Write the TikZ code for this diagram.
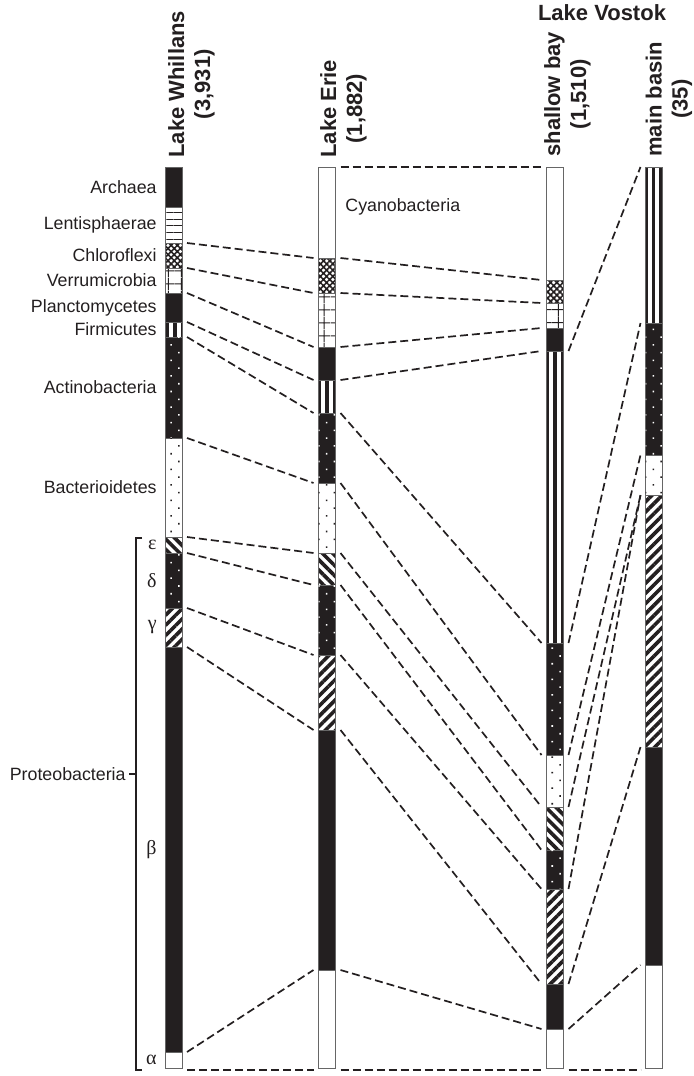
\documentclass[tikz,border=0pt]{standalone}
\usepackage{fontspec}
\setmainfont{Liberation Sans}
\newfontfamily\greekfont{Liberation Serif}
\usetikzlibrary{patterns.meta,positioning}
\definecolor{ink}{RGB}{35,31,32}
\tikzset{
  seg/.style={draw=black!60, line width=0.35pt, minimum width=8.5pt, inner sep=0pt, outer sep=0pt, anchor=north},
  blk/.style={fill=ink},
  wht/.style={fill=white},
  hln/.style={pattern={Lines[angle=0,distance=3.4pt,line width=0.5pt]}, pattern color=ink},
  chk/.style={pattern={Hatch[angle=45,distance=2.2pt,line width=0.8pt]}, pattern color=ink},
  grd/.style={pattern={Hatch[angle=0,distance=6.5pt,line width=0.5pt]}, pattern color=ink},
  vln/.style={pattern={Lines[angle=90,distance=3.8pt,line width=1.8pt]}, pattern color=ink},
  nel/.style={pattern={Lines[angle=45,distance=3.6pt,line width=1.8pt]}, pattern color=ink},
  nwl/.style={pattern={Lines[angle=-45,distance=3.6pt,line width=1.8pt]}, pattern color=ink},
  bdt/.style={fill=ink, postaction={pattern={Dots[angle=45,distance=5.5pt,radius=0.55pt]}, pattern color=white}},
  wdt/.style={fill=white, postaction={pattern={Dots[angle=45,distance=5.5pt,radius=0.55pt]}, pattern color=ink}},
  link/.style={draw=ink, line width=0.85pt, dash pattern=on 4pt off 2pt},
  lab/.style={font=\fontsize{8.9}{10.5}\selectfont, text=ink, inner sep=0pt},
  grk/.style={font=\greekfont\fontsize{10}{12}\selectfont, text=ink, inner sep=0pt},
  head/.style={font=\bfseries\fontsize{11}{13}\selectfont, text=ink, inner sep=0pt, align=center}
}
\begin{document}
\begin{tikzpicture}[x=0.5pt, y=-0.5pt]
\useasboundingbox (0,0) rectangle (693,1076);
% Lake Whillans
\foreach \n/\a/\b/\s in {arc/167/207/blk, len/207/243/hln, chl/243/268/chk, ver/268/293/grd, pla/293/322/blk, fir/322/337/vln, act/337/438/bdt, bac/438/537/wdt, eps/537/553/nwl, del/553/608/bdt, gam/608/647/nel, bet/647/1052/blk, alp/1052/1068/wht}
  \node[seg, \s, minimum height=(\b-\a)*0.5pt] (w\n) at (173.5,\a) {};
% Lake Erie
\foreach \n/\a/\b/\s in {cya/167/258/wht, chl/258/293/chk, ver/293/347/grd, pla/347/380/blk, fir/380/413/vln, act/413/483/bdt, bac/483/553/wdt, eps/553/585/nwl, del/585/655/bdt, gam/655/730/nel, bet/730/970/blk, alp/970/1068/wht}
  \node[seg, \s, minimum height=(\b-\a)*0.5pt] (e\n) at (327,\a) {};
% Lake Vostok, shallow bay
\foreach \n/\a/\b/\s in {cya/167/280/wht, chl/280/303/chk, ver/303/328/grd, pla/328/351/blk, fir/351/643/vln, act/643/755/bdt, bac/755/807/wdt, eps/807/850/nwl, del/850/889/bdt, gam/889/984/nel, bet/984/1029/blk, alp/1029/1068/wht}
  \node[seg, \s, minimum height=(\b-\a)*0.5pt] (s\n) at (555,\a) {};
% Lake Vostok, main basin
\foreach \n/\a/\b/\s in {fir/167/323/vln, act/323/455/bdt, bac/455/495/wdt, gam/495/747/nel, bet/747/965/blk, alp/965/1068/wht}
  \node[seg, \s, minimum height=(\b-\a)*0.5pt] (m\n) at (654,\a) {};

% dashed links between the columns
\foreach \p/\q in {wchl/echl, wver/ever, wpla/epla, wfir/efir, wact/eact, wbac/ebac, weps/eeps, wdel/edel, wgam/egam, wbet/ebet, walp/ealp,
  ecya/scya, echl/schl, ever/sver, epla/spla, efir/sfir, eact/sact, ebac/sbac, eeps/seps, edel/sdel, egam/sgam, ebet/sbet, ealp/salp,
  sfir/mfir, sact/mact, sbac/mbac, seps/mgam, sgam/mgam, sbet/mbet, salp/malp}
  \draw[link] ([xshift=2.5pt]\p.north east) -- ([xshift=-2.5pt]\q.north west);
\foreach \p/\q in {walp/ealp, ealp/salp, salp/malp}
  \draw[link] ([xshift=2.5pt,yshift=-1pt]\p.south east) -- ([xshift=-2.5pt,yshift=-1pt]\q.south west);

% taxa
\node[lab, left=4pt of warc] (larc) {Archaea};
\node[lab, left=4pt of wlen] (llen) {Lentisphaerae};
\node[lab, left=4pt of wchl] (lchl) {Chloroflexi};
\node[lab, left=4pt of wver] (lver) {Verrumicrobia};
\node[lab, left=4pt of wpla] (lpla) {Planctomycetes};
\node[lab, left=4pt of wfir] (lfir) {Firmicutes};
\node[lab, left=4pt of wact] (lact) {Actinobacteria};
\node[lab, left=4pt of wbac] (lbac) {Bacterioidetes};
\node[lab, anchor=west] (lcya) at (345,207) {Cyanobacteria};
\node[grk, left=4pt of weps] (leps) {ε};
\node[grk, left=4pt of wdel] (ldel) {δ};
\node[grk, left=4pt of wgam] (lgam) {γ};
\node[grk, left=4pt of wbet] (lbet) {β};
\node[grk, left=4pt of walp] (lalp) {α};
\draw[ink, line width=0.75pt] (142,538) -- (136,538) -- (136,1070) -- (142,1070);
\draw[ink, line width=0.75pt] (136,774) -- (129,774);
\node[lab, anchor=east] (lpro) at (126,774) {Proteobacteria};

% column heads
\node[head, rotate=90, anchor=west] (hwil) at (191.5,158) {Lake Whillans\\(3,931)};
\node[head, rotate=90, anchor=west] (heri) at (343.5,158) {Lake Erie\\(1,882)};
\node[head, rotate=90, anchor=west] (hsha) at (567.5,157) {shallow bay\\(1,510)};
\node[head, rotate=90, anchor=west] (hmai) at (669,157) {main basin\\(35)};
\node[head] (hvos) at (602,13) {Lake Vostok};
\end{tikzpicture}
\end{document}
